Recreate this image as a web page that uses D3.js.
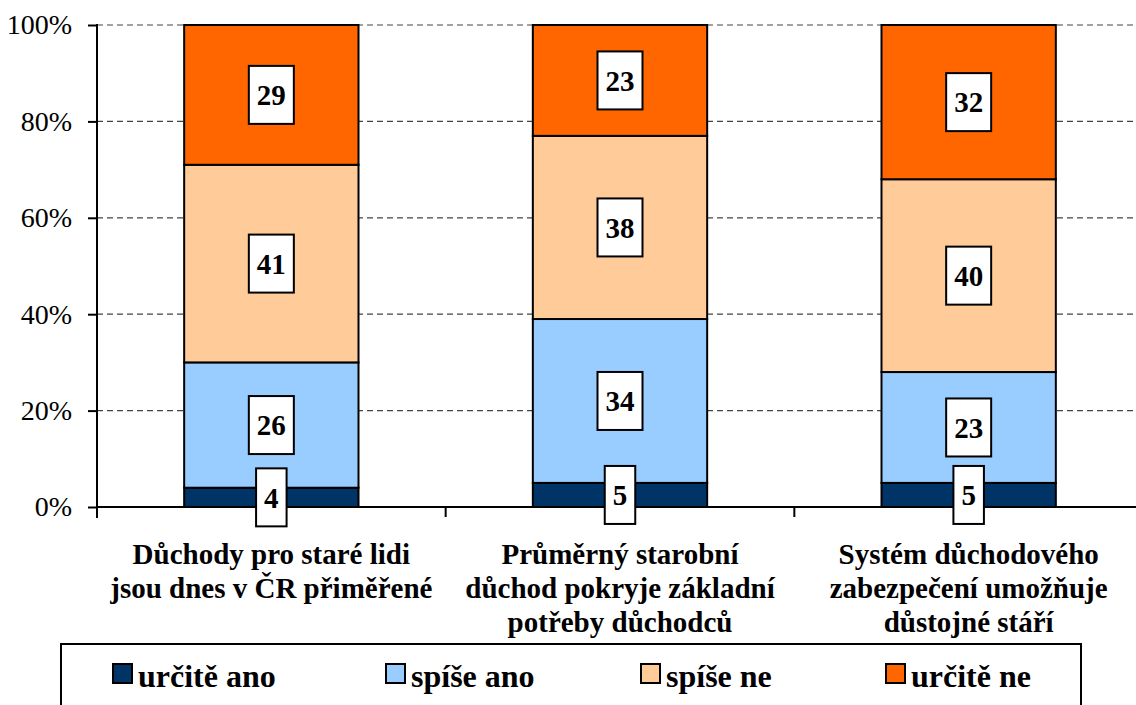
<!DOCTYPE html>
<html>
<head>
<meta charset="utf-8">
<script src="https://cdn.jsdelivr.net/npm/d3@7"></script>
<style>
  body { margin: 0; background: #fff; }
</style>
</head>
<body>
<svg id="chart"></svg>
<script>
const width = 1136;
const height = 705;
const FONT = "Liberation Serif";

// Data
const categories = [
    ["Důchody pro staré lidi", "jsou dnes v ČR přiměřené"],
    ["Průměrný starobní", "důchod pokryje základní", "potřeby důchodců"],
    ["Systém důchodového", "zabezpečení umožňuje", "důstojné stáří"]
];
const seriesNames = ["určitě ano", "spíše ano", "spíše ne", "určitě ne"];
const urciteAno = [4, 5, 5];
const spiseAno = [26, 34, 23];
const spiseNe = [41, 38, 40];
const urciteNe = [29, 23, 32];
const yTicks = [0, 20, 40, 60, 80, 100];

const colors = ["#003366", "#99ccff", "#ffcc99", "#ff6600"];
const legendX = [113, 386, 641, 886]; // legend item positions

const margin = { left: 97, top: 25, bottom: 507, right: 1143 };

const svg = d3.select("#chart")
    .attr("width", width)
    .attr("height", height)
    .style("font-family", FONT);

const x = d3.scaleBand()
    .domain(d3.range(categories.length))
    .range([margin.left, margin.right])
    .paddingInner(0.5)
    .paddingOuter(0.25);

const y = d3.scaleLinear()
    .domain([0, 100])
    .range([margin.bottom, margin.top]);

// gridlines
svg.append("g")
    .selectAll("line")
    .data(yTicks.filter(d => d > 0))
    .enter()
    .append("line")
    .attr("x1", margin.left)
    .attr("x2", width)
    .attr("y1", d => y(d))
    .attr("y2", d => y(d))
    .attr("stroke", "#444")
    .attr("stroke-width", 1.2)
    .attr("stroke-dasharray", "6,4");

// stacked bars
const table = categories.map((c, i) => ({
    i: i,
    "0": urciteAno[i], "1": spiseAno[i], "2": spiseNe[i], "3": urciteNe[i]
}));
const stack = d3.stack().keys(["0", "1", "2", "3"])(table);

const layers = svg.append("g")
    .selectAll("g")
    .data(stack)
    .enter()
    .append("g")
    .attr("fill", (d, k) => colors[k]);

layers.selectAll("rect")
    .data(d => d)
    .enter()
    .append("rect")
    .attr("x", d => x(d.data.i))
    .attr("width", x.bandwidth())
    .attr("y", d => y(d[1]))
    .attr("height", d => y(d[0]) - y(d[1]))
    .attr("stroke", "#000")
    .attr("stroke-width", 2);

// axes
const yAxis = svg.append("g")
    .attr("transform", `translate(${margin.left},0)`)
    .call(d3.axisLeft(y).tickValues(yTicks).tickSize(9).tickPadding(16).tickFormat(d => d + "%"));
yAxis.attr("font-family", null).attr("font-size", null);
yAxis.select(".domain").remove();
yAxis.selectAll(".tick line").attr("stroke", "#000").attr("stroke-width", 2);
yAxis.selectAll(".tick text")
    .attr("fill", "#000")
    .style("font-family", FONT)
    .style("font-size", "28px");

svg.append("line")
    .attr("x1", margin.left).attr("x2", margin.left)
    .attr("y1", margin.top - 1).attr("y2", margin.bottom + 11)
    .attr("stroke", "#000").attr("stroke-width", 2);

svg.append("line")
    .attr("x1", margin.left).attr("x2", width)
    .attr("y1", margin.bottom).attr("y2", margin.bottom)
    .attr("stroke", "#000").attr("stroke-width", 2);

const step = x.step();
svg.append("g")
    .selectAll("line")
    .data(d3.range(1, categories.length))
    .enter()
    .append("line")
    .attr("x1", d => margin.left + d * step)
    .attr("x2", d => margin.left + d * step)
    .attr("y1", margin.bottom)
    .attr("y2", margin.bottom + 10)
    .attr("stroke", "#000").attr("stroke-width", 2);

// value labels
const labels = svg.append("g")
    .selectAll("g")
    .data(stack.flatMap(s => s.map(d => ({ v: d[1] - d[0], y0: d[0], y1: d[1], i: d.data.i }))))
    .enter()
    .append("g")
    .attr("transform", d => `translate(${x(d.i) + x.bandwidth() / 2},${(y(d.y0) + y(d.y1)) / 2})`);

labels.append("text")
    .attr("text-anchor", "middle")
    .attr("dy", "0.35em")
    .style("font-family", FONT)
    .style("font-size", "29px")
    .style("font-weight", "bold")
    .text(d => d.v);

labels.insert("rect", "text")
    .each(function () {
        const t = d3.select(this.parentNode).select("text").node().getBBox();
        d3.select(this)
            .attr("x", -t.width / 2 - 8)
            .attr("width", t.width + 16)
            .attr("y", -29)
            .attr("height", 58)
            .attr("fill", "#fff")
            .attr("stroke", "#000")
            .attr("stroke-width", 2);
    });

// category labels
const cat = svg.append("g")
    .selectAll("text")
    .data(categories)
    .enter()
    .append("text")
    .attr("text-anchor", "middle")
    .style("font-family", FONT)
    .style("font-size", "29px")
    .style("font-weight", "bold")
    .attr("x", (d, i) => x(i) + x.bandwidth() / 2)
    .attr("y", 564);

cat.selectAll("tspan")
    .data(d => d)
    .enter()
    .append("tspan")
    .attr("x", function () { return d3.select(this.parentNode).attr("x"); })
    .attr("dy", (d, j) => j === 0 ? 0 : 34)
    .text(d => d);

// legend
svg.append("rect")
    .attr("x", 61).attr("y", 644)
    .attr("width", 1020).attr("height", 80)
    .attr("fill", "#fff")
    .attr("stroke", "#000").attr("stroke-width", 2);

const legend = svg.append("g")
    .selectAll("g")
    .data(seriesNames)
    .enter()
    .append("g")
    .attr("transform", (d, k) => `translate(${legendX[k]},0)`);

legend.append("rect")
    .attr("x", 0).attr("y", 664)
    .attr("width", 19).attr("height", 19)
    .attr("fill", (d, k) => colors[k])
    .attr("stroke", "#000").attr("stroke-width", 2);

legend.append("text")
    .attr("x", 25).attr("y", 687)
    .style("font-family", FONT)
    .style("font-size", "32px")
    .style("font-weight", "bold")
    .text(d => d);
</script>
</body>
</html>
